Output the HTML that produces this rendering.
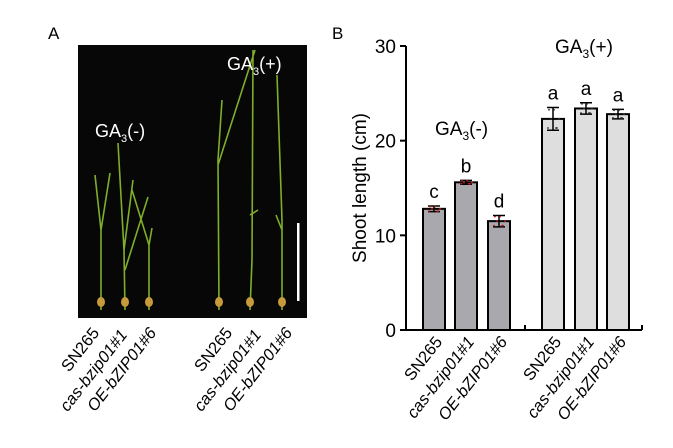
<!DOCTYPE html>
<html><head><meta charset="utf-8"><style>
body{margin:0;background:#fff;width:673px;height:443px;overflow:hidden}
svg{font-family:"Liberation Sans",Arial,sans-serif}
</style></head><body>
<svg width="673" height="443">
<text x="48" y="39" font-size="17">A</text>
<text x="332" y="39" font-size="17">B</text>
<g>
<rect x="78" y="45" width="229" height="273" fill="#070707"/>
<g stroke="#7fae2a" stroke-width="1.6" fill="none">
<path d="M101 310 L101 230 L95 175 M101 230 L110 173 M125 310 L124 250 L118 143 M124 250 L133 180 M125 270 L148 197 M149 310 L149 245 L132 190 M149 245 L152 228"/>
<path d="M219 310 L218 160 L222 100 M218 165 L255 50 M250 310 L252 260 L253 50 M250 215 L258 210 M282 310 L282 220 L277 75 M282 230 L276 215"/>
</g>
<g fill="#c79a3c"><ellipse cx="101" cy="302" rx="4" ry="5"/><ellipse cx="125" cy="302" rx="4" ry="5"/><ellipse cx="149" cy="302" rx="4" ry="5"/><ellipse cx="219" cy="302" rx="4" ry="5"/><ellipse cx="250" cy="302" rx="4" ry="5"/><ellipse cx="282" cy="302" rx="4" ry="5"/></g>
<rect x="297" y="223" width="2.5" height="78" fill="#fff"/>
<text x="95" y="137" font-size="18" fill="#fff">GA<tspan font-size="11" dy="5">3</tspan><tspan dy="-5">(-)</tspan></text>
<text x="227" y="70" font-size="18" fill="#fff">GA<tspan font-size="11" dy="5">3</tspan><tspan dy="-5">(+)</tspan></text>
</g>
<g font-size="16.5" text-anchor="end">
<text transform="translate(100,333) rotate(-52)">SN265</text>
<text transform="translate(128,335) rotate(-52)" font-style="italic">cas-bzip01#1</text>
<text transform="translate(157,333) rotate(-52)" font-style="italic">OE-bZIP01#6</text>
<text transform="translate(233,333) rotate(-52)">SN265</text>
<text transform="translate(262,335) rotate(-52)" font-style="italic">cas-bzip01#1</text>
<text transform="translate(293,333) rotate(-52)" font-style="italic">OE-bZIP01#6</text>
</g>
<g id="chart"></g>
</svg>
<script>
const categories=["SN265","cas-bzip01#1","OE-bZIP01#6","SN265","cas-bzip01#1","OE-bZIP01#6"];
const values=[12.8,15.6,11.5,22.3,23.4,22.8];
const errors=[0.3,0.2,0.6,1.2,0.6,0.5];
const letters=["c","b","d","a","a","a"];
const yTicks=[0,10,20,30];
const ns="http://www.w3.org/2000/svg";
const g=document.getElementById('chart');
const y=v=>330-v*284/30;
const barX=[423,455,488,542,575,607];
const bw=22;
function mk(t,a,txt){const e=document.createElementNS(ns,t);for(const k in a)e.setAttribute(k,a[k]);if(txt!=null)e.textContent=txt;g.appendChild(e);return e;}
const ax=mk('path',{d:'M406 '+y(30)+' L406 330 L642 330',stroke:'#000','stroke-width':2,fill:'none'});


mk('line',{x1:525,x2:525,y1:330,y2:325,stroke:'#000','stroke-width':2});
mk('line',{x1:642,x2:642,y1:330,y2:325,stroke:'#000','stroke-width':2});
yTicks.forEach(t=>{
 mk('line',{x1:400,x2:406,y1:y(t),y2:y(t),stroke:'#000','stroke-width':2});
 const l=mk('text',{x:396,y:y(t)+7,'font-size':19,'text-anchor':'end'},t);
 
 
});
const yt=mk('text',{transform:'translate(366,188) rotate(-90)','font-size':19,'text-anchor':'middle'},'Shoot length (cm)');


values.forEach((v,i)=>{
 const x=barX[i],cx=x+bw/2;
 const r=mk('rect',{x:x,y:y(v),width:bw,height:330-y(v),fill:i<3?'#a9a9ad':'#dedede',stroke:'#000','stroke-width':2});
 
 
 const e=errors[i];
 mk('path',{d:`M${cx} ${y(v+e)} L${cx} ${y(v-e)} M${cx-6} ${y(v+e)} L${cx+6} ${y(v+e)} M${cx-6} ${y(v-e)} L${cx+6} ${y(v-e)}`,stroke:'#000','stroke-width':1.5,fill:'none'});
 [-5,-2,1,4,6,-4,3].forEach((d,j)=>mk('circle',{cx:cx+d,cy:y(v+((j%3)-1)*e*0.8),r:0.9,fill:i<3?'#c0121e':'#333'}));
 const lt=mk('text',{x:cx,y:y(v+e)-8,'font-size':19,'text-anchor':'middle'},letters[i]);
 
 
 const xl=mk('text',{transform:`translate(${cx+9},342) rotate(-52)`,'font-size':16.5,'text-anchor':'end','font-style':i%3?'italic':'normal'},categories[i]);
 
 
});
const gm=mk('text',{x:435,y:135,'font-size':19});
gm.innerHTML='GA<tspan font-size="12" dy="5">3</tspan><tspan dy="-5">(-)</tspan>';


const gp=mk('text',{x:555,y:53,'font-size':19});
gp.innerHTML='GA<tspan font-size="12" dy="5">3</tspan><tspan dy="-5">(+)</tspan>';


</script>
</body></html>
